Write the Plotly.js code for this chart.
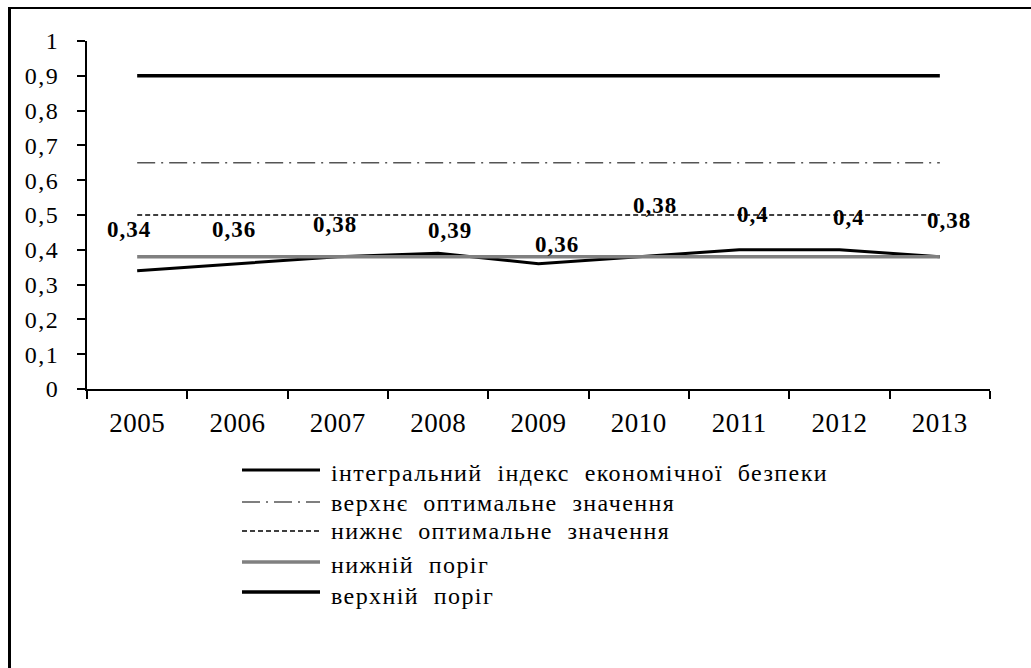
<!DOCTYPE html>
<html>
<head>
<meta charset="utf-8">
<script src="https://cdn.plot.ly/plotly-3.0.1.min.js"></script>
<style>
  html, body { margin: 0; padding: 0; overflow: hidden; background: #fff; }
  #chart { width: 1031px; height: 668px; }
  #frame { position: absolute; left: 8px; top: 7px; width: 1200px; height: 800px;
           border-top: 2px solid #000; border-left: 3px solid #000; pointer-events: none; }
  .main-svg text { font-family: 'Liberation Serif', 'Times New Roman', Times, serif !important; }
  .ytick text { letter-spacing: 1.5px; }
  .xtick text { letter-spacing: 0.5px; }
</style>
</head>
<body>
<div id="chart"></div>
<div id="frame"></div>
<script>
// ---- data ----
const years = ['2005','2006','2007','2008','2009','2010','2011','2012','2013'];
const integralIndex = [0.34, 0.36, 0.38, 0.39, 0.36, 0.38, 0.4, 0.4, 0.38];
const upperOptimal = [0.65, 0.65, 0.65, 0.65, 0.65, 0.65, 0.65, 0.65, 0.65];
const lowerOptimal = [0.5, 0.5, 0.5, 0.5, 0.5, 0.5, 0.5, 0.5, 0.5];
const lowerThreshold = [0.38, 0.38, 0.38, 0.38, 0.38, 0.38, 0.38, 0.38, 0.38];
const upperThreshold = [0.9, 0.9, 0.9, 0.9, 0.9, 0.9, 0.9, 0.9, 0.9];
const seriesNames = [
  'інтегральний  індекс  економічної  безпеки',
  'верхнє  оптимальне  значення',
  'нижнє  оптимальне  значення',
  'нижній  поріг',
  'верхній  поріг'
];

// ---- styles ----
const SERIF = 'Liberation Serif';
const lineStyles = [
  { color: '#000', width: 3 },
  { color: '#555', width: 1.5, dash: '18px,6px,2px,6px' },
  { color: '#000', width: 1.5, dash: '5px,3px' },
  { color: '#808080', width: 3.5 },
  { color: '#000', width: 3.5 }
];
// data label pixel offsets
const labelDx = [-8, -4, -3, 12, 18, 16, 14, 9, 9];
const labelDy = [41, 34, 32, 23, 19, 51, 35, 32, 36];
// legend geometry (pixels in the 1031x668 page)
const plotL = 87, plotR = 990, plotT = 41, plotB = 389;
const legKeyX0 = 242, legKeyX1 = 320, legTextX = 329;
const legKeyY = [470, 502, 531, 562, 592];
const legTextY = [473, 503, 531, 565, 596];

const fmt = v => String(v).replace('.', ',');
const px2x = px => (px - plotL) / (plotR - plotL);
const px2y = py => (plotB - py) / (plotB - plotT);

const seriesValues = [integralIndex, upperOptimal, lowerOptimal, lowerThreshold, upperThreshold];
const traces = seriesValues.map((vals, k) => ({
  x: years, y: vals, name: seriesNames[k], mode: 'lines',
  line: lineStyles[k], showlegend: false
}));

const annotations = years.map((yr, i) => ({
  x: i, y: integralIndex[i], xref: 'x', yref: 'y',
  text: '<span style="letter-spacing:1px"><b>' + fmt(integralIndex[i]) + '</b></span>', showarrow: false,
  xshift: labelDx[i], yshift: labelDy[i],
  font: { family: SERIF, size: 23, color: '#000' }
}));

const shapes = [];
seriesNames.forEach((nm, k) => {
  shapes.push({
    type: 'line', xref: 'paper', yref: 'paper',
    x0: px2x(legKeyX0), x1: px2x(legKeyX1), y0: px2y(legKeyY[k]), y1: px2y(legKeyY[k]),
    line: lineStyles[k]
  });
  annotations.push({
    xref: 'paper', yref: 'paper', x: px2x(legTextX), y: px2y(legTextY[k]),
    xanchor: 'left', yanchor: 'middle', showarrow: false,
    text: '<span style="letter-spacing:1.4px">' + nm + '</span>',
    font: { family: SERIF, size: 24, color: '#000' }
  });
});

const layout = {
  width: 1031, height: 668,
  margin: { l: plotL, r: 1031 - plotR, t: plotT, b: 668 - plotB, autoexpand: false },
  paper_bgcolor: '#fff', plot_bgcolor: '#fff',
  separators: ', ',
  showlegend: false,
  font: { family: SERIF, color: '#000' },
  xaxis: {
    type: 'category', range: [-0.5, 8.5],
    showline: true, linecolor: '#000', linewidth: 2,
    ticks: 'outside', tickson: 'boundaries', ticklen: 8, tickwidth: 2, tickcolor: '#000',
    showgrid: false, zeroline: false, tickangle: 0,
    tickfont: { size: 27, family: SERIF }, ticklabelstandoff: 9,
    fixedrange: true
  },
  yaxis: {
    range: [0, 1], dtick: 0.1, tick0: 0,
    showline: true, linecolor: '#000', linewidth: 2,
    ticks: 'outside', ticklen: 8, tickwidth: 2, tickcolor: '#000',
    showgrid: false, zeroline: false,
    tickfont: { size: 24, family: SERIF }, ticklabelstandoff: 13,
    fixedrange: true
  },
  shapes: shapes,
  annotations: annotations
};

Plotly.newPlot('chart', traces, layout, { staticPlot: true, displayModeBar: false });
</script>
</body>
</html>
